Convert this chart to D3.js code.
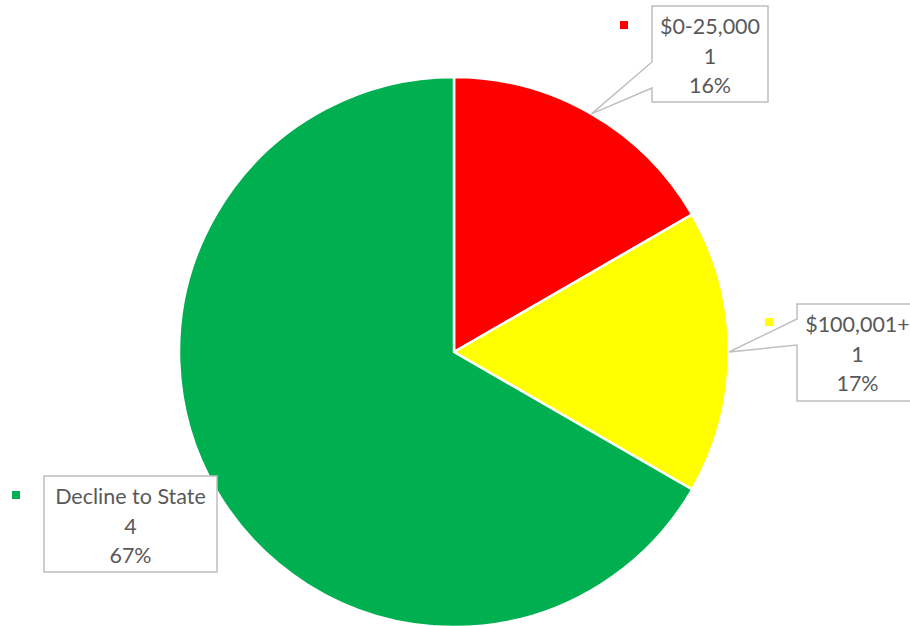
<html>
<script src="https://d3js.org/d3.v7.min.js"></script>
<style>
  body { margin: 0; background: #fff; }
  text { font-family: Lato, "Open Sans", sans-serif; fill: #595959; }
</style>
<body>
<svg width="910" height="626"></svg>
<script>
// chart data
var categories = ["$0-25,000", "$100,001+", "Decline to State"];
var counts = [1, 1, 4];
var pctLabels = ["16%", "17%", "67%"];
var colors = ["#ff0000", "#ffff00", "#00b050"];

// label box layout (x, y, w, h), pointer attach y-range on left edge, legend key position
var boxes = [
  {x: 652, y: 6, w: 116, h: 96, p1: 62, p2: 88, key: [620, 21], ptr: true},
  {x: 797, y: 304, w: 121, h: 97, p1: 319, p2: 345, key: [765, 318], ptr: true},
  {x: 44, y: 476, w: 173, h: 96, key: [12, 491], ptr: false}
];

var cx = 454, cy = 352, radius = 275;
var svg = d3.select("svg");

var pie = d3.pie().sort(null).value(function(d) { return d; });
var arcs = pie(counts);
var arc = d3.arc().innerRadius(0).outerRadius(radius);

var g = svg.append("g").attr("transform", "translate(" + cx + "," + cy + ")");
g.selectAll("path")
  .data(arcs)
  .enter().append("path")
  .attr("d", arc)
  .attr("fill", function(d, i) { return colors[i]; })
  .attr("stroke", "#fff")
  .attr("stroke-width", 2.5)
  .attr("stroke-linejoin", "round");

arcs.forEach(function(a, i) {
  var b = boxes[i];
  var mid = (a.startAngle + a.endAngle) / 2;
  var tx = cx + radius * Math.sin(mid), ty = cy - radius * Math.cos(mid);
  var p;
  if (b.ptr) {
    p = "M" + b.x + "," + b.y + "H" + (b.x + b.w) + "V" + (b.y + b.h) + "H" + b.x +
        "V" + b.p2 + "L" + tx + "," + ty + "L" + b.x + "," + b.p1 + "Z";
  } else {
    p = "M" + b.x + "," + b.y + "H" + (b.x + b.w) + "V" + (b.y + b.h) + "H" + b.x + "Z";
  }
  svg.append("path").attr("d", p)
    .attr("fill", "#fff").attr("stroke", "#bfbfbf").attr("stroke-width", 1.5);

  svg.append("rect")
    .attr("x", b.key[0]).attr("y", b.key[1])
    .attr("width", 8).attr("height", 8)
    .attr("fill", colors[i]);

  var lines = [categories[i], String(counts[i]), pctLabels[i]];
  var mx = b.x + b.w / 2;
  lines.forEach(function(t, k) {
    svg.append("text")
      .attr("x", mx)
      .attr("y", b.y + 28 + k * 29.5)
      .attr("text-anchor", "middle")
      .style("font-size", "21.5px")
      .text(t);
  });
});
</script>
</body>
</html>
